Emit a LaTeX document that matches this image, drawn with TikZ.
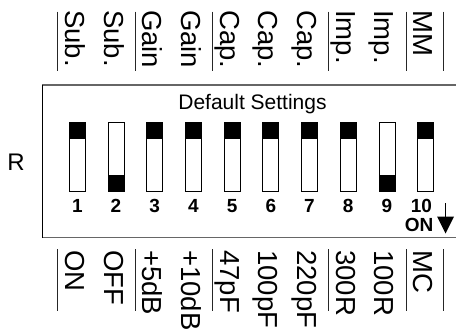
\documentclass[tikz,border=0pt]{standalone}
\usepackage{fontspec}
\setmainfont{Liberation Sans}
\begin{document}
\begin{tikzpicture}[x=1pt,y=-1pt,
  swbox/.style={draw=black,line width=0.8pt,fill=white},
  tab/.style={fill=black,draw=black,line width=0.8pt},
  lab/.style={rotate=-90,anchor=west,font=\fontsize{27.5}{27.5}\selectfont,inner sep=0pt,text height=20pt,text depth=0pt},
  sepline/.style={line width=1pt,draw=black!85},
  num/.style={font=\fontsize{19}{19}\selectfont\bfseries,anchor=base,inner sep=0pt}]
\useasboundingbox (0,0) rectangle (456,330);
% frame
\draw[black!60,line width=1.3pt] (42.3,85) -- (470,85);
\draw[black!60,line width=1.3pt] (42.3,237.5) -- (470,237.5);
\draw[black,line width=0.9pt] (42.3,85) -- (42.3,237.5);
\node[anchor=base,inner sep=0pt,font=\fontsize{21}{21}\selectfont] (title) at (252.5,109.7) {Default Settings};
\node[anchor=base,inner sep=0pt,font=\fontsize{24}{24}\selectfont] (rlab) at (16,170) {R};
% switches
\foreach \i/\pos in {1/up,2/down,3/up,4/up,5/up,6/up,7/up,8/up,9/down,10/up}{
  \pgfmathsetmacro{\xl}{69.3+38.7*(\i-1)}
  \pgfmathsetmacro{\xr}{\xl+16}
  \draw[swbox] (\xl,122.3) rectangle (\xr,191.7);
  \ifnum\pdfstrcmp{\pos}{up}=0
    \draw[tab] (\xl,122.3) rectangle (\xr,138.3);
  \else
    \draw[tab] (\xl,175.7) rectangle (\xr,191.7);
  \fi
}
\foreach \i in {1,...,9}{
  \pgfmathsetmacro{\xc}{77.3+38.7*(\i-1)}
  \node[num] (n\i) at (\xc,212.7) {\i};
}
\node[num] (n10) at (421.5,212.7) {10};
\node[num] (on) at (419,231.7) {ON};
\coordinate (arrtop) at (445.5,203.3);
\coordinate (arrbase) at (445.5,218);
\draw[line width=1.6pt] (arrtop) -- (arrbase);
\fill (437,216.5) -- (454,216.5) -- (445.5,233.5) -- cycle;
% top labels
\foreach \i/\t in {1/Sub.,2/Sub.,3/Gain,4/Gain,5/Cap.,6/Cap.,7/Cap.,8/Imp.,9/Imp.,10/MM}{
  \pgfmathsetmacro{\xc}{75.3+38.7*(\i-1)}
  \node[lab] (t\i) at (\xc,10) {\t};
}
% bottom labels
\foreach \i/\t in {1/ON,2/OFF,3/+5dB,4/+10dB,5/47pF,6/100pF,7/220pF,8/300R,9/100R,10/MC}{
  \pgfmathsetmacro{\xc}{75.3+38.7*(\i-1)}
  \node[lab] (b\i) at (\xc,250) {\t};
}
% separators
\foreach \x in {57.3,135.5,212.5,328.5,406.3,443.3}{
  \draw[sepline] (\x,11.5) -- (\x,70.5);
  \draw[sepline] (\x,249) -- (\x,311);
}
\end{tikzpicture}
\end{document}
